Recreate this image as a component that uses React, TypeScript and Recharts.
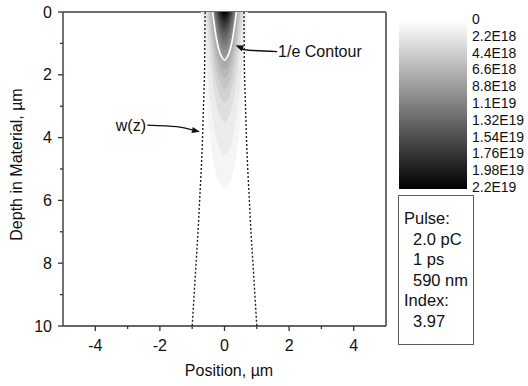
import { Bar, BarChart, ComposedChart, Curve, ReferenceLine, Scatter, XAxis, YAxis } from 'recharts';

const FONT = '"Liberation Sans", Arial, Helvetica, sans-serif';
const INK = '#111';

// axes
const xTicks = [-4, -3, -2, -1, 0, 1, 2, 3, 4];
const yTicks = [0, 1, 2, 3, 4, 5, 6, 7, 8, 9, 10];

// beam radius w(z), dotted lines
const beamDepths = [0, 1, 2, 3, 4, 5, 6, 7, 8, 9, 10];
const beamRadius = [0.6, 0.61, 0.62, 0.65, 0.68, 0.72, 0.77, 0.82, 0.88, 0.94, 1.0];

// filled contour levels (absorbed density), lowest first
const colorMax = 2.2e19;
const contourLevels = [
    5.5e17, 1.1e18, 2.2e18, 3.3e18, 4.4e18, 5.5e18, 6.6e18, 7.7e18, 8.8e18, 9.9e18,
    1.1e19, 1.21e19, 1.32e19, 1.43e19, 1.54e19, 1.65e19, 1.76e19, 1.87e19, 1.98e19, 2.09e19,
];
const contourDepths = [
    [0, 2.8, 4.49, 5.33, 5.61],
    [0, 2.28, 3.64, 4.32, 4.55],
    [0, 1.75, 2.8, 3.33, 3.5],
    [0, 1.44, 2.3, 2.74, 2.88],
    [0, 1.23, 1.96, 2.33, 2.45],
    [0, 1.06, 1.69, 2.0, 2.11],
    [0, 0.92, 1.46, 1.74, 1.83],
    [0, 0.8, 1.28, 1.52, 1.6],
    [0, 0.7, 1.11, 1.32, 1.39],
    [0, 0.61, 0.97, 1.15, 1.21],
    [0, 0.53, 0.84, 1.0, 1.05],
    [0, 0.46, 0.73, 0.86, 0.91],
    [0, 0.39, 0.62, 0.74, 0.78],
    [0, 0.33, 0.52, 0.62, 0.65],
    [0, 0.27, 0.43, 0.51, 0.54],
    [0, 0.22, 0.35, 0.42, 0.44],
    [0, 0.17, 0.27, 0.32, 0.34],
    [0, 0.125, 0.2, 0.24, 0.25],
    [0, 0.08, 0.13, 0.15, 0.16],
    [0, 0.04, 0.064, 0.076, 0.08],
];
const contourHalfWidths = [
    [0.733, 0.553, 0.382, 0.201, 0],
    [0.661, 0.488, 0.328, 0.171, 0],
    [0.579, 0.42, 0.276, 0.142, 0],
    [0.526, 0.379, 0.246, 0.126, 0],
    [0.484, 0.347, 0.224, 0.113, 0],
    [0.45, 0.321, 0.206, 0.104, 0],
    [0.419, 0.298, 0.191, 0.096, 0],
    [0.391, 0.278, 0.177, 0.09, 0],
    [0.365, 0.259, 0.165, 0.083, 0],
    [0.341, 0.241, 0.153, 0.076, 0],
    [0.318, 0.225, 0.142, 0.071, 0],
    [0.295, 0.209, 0.132, 0.066, 0],
    [0.273, 0.193, 0.122, 0.061, 0],
    [0.251, 0.177, 0.112, 0.056, 0],
    [0.228, 0.161, 0.102, 0.051, 0],
    [0.205, 0.145, 0.092, 0.046, 0],
    [0.18, 0.127, 0.08, 0.04, 0],
    [0.154, 0.109, 0.069, 0.034, 0],
    [0.124, 0.088, 0.055, 0.028, 0],
    [0.086, 0.061, 0.038, 0.019, 0],
];

// 1/e contour
const eDepths = [0, 0.76, 1.22, 1.44, 1.54];
const eHalfWidths = [0.37, 0.265, 0.17, 0.085, 0];

// annotations
const contourArrowX = [1.63, 0.69, 0.34];
const contourArrowY = [1.26, 1.21, 1.06];
const beamArrowX = [-2.39, -1.48, -0.76];
const beamArrowY = [3.6, 3.65, 3.81];
const noteText = ['1/e Contour', 'w(z)'];
const noteX = [1.66, -2.43];
const noteY = [1.27, 3.6];
const noteAnchor = ['start', 'end'];

// colour bar
const colorbarTicks = [0, 2.2e18, 4.4e18, 6.6e18, 8.8e18, 1.1e19, 1.32e19, 1.54e19, 1.76e19, 1.98e19, 2.2e19];
const colorbarLabels = ['0', '2.2E18', '4.4E18', '6.6E18', '8.8E18', '1.1E19', '1.32E19', '1.54E19', '1.76E19', '1.98E19', '2.2E19'];

// info box
const pulseLines = ['Pulse:', '2.0 pC', '1 ps', '590 nm', 'Index:', '3.97'];
const pulseIndent = [false, true, true, true, false, true];

const grayFor = (v: number) => {
    const g = Math.round(255 * (1 - v / colorMax));
    return `rgb(${g},${g},${g})`;
};

const mirrored = (depths: number[], widths: number[]) => [
    ...depths.map((d, i) => ({ x: -widths[i], y: d })),
    ...depths
        .slice(0, -1)
        .map((d, i) => ({ x: widths[i], y: d }))
        .reverse(),
];

const toPoints = (xs: number[], ys: number[]) => xs.map((x, i) => ({ x, y: ys[i] }));

const noMarker = () => <g />;

const BandPath = (props: any) => (
    <Curve points={props.points} type="natural" fill={props.tone} stroke="none" />
);

const ContourPath = (props: any) => (
    <Curve points={props.points} type="natural" fill="none" stroke="#fff" strokeWidth={1.6} />
);

const ArrowPath = (props: any) => {
    const pts = props.points || [];
    if (pts.length < 2) return null;
    const a = pts[pts.length - 2];
    const b = pts[pts.length - 1];
    const ang = Math.atan2(b.y - a.y, b.x - a.x);
    const len = 8;
    const half = 3;
    const base = { x: b.x - len * Math.cos(ang), y: b.y - len * Math.sin(ang) };
    const p1 = { x: base.x + half * Math.sin(ang), y: base.y - half * Math.cos(ang) };
    const p2 = { x: base.x - half * Math.sin(ang), y: base.y + half * Math.cos(ang) };
    return (
        <g>
            <Curve points={[...pts.slice(0, -1), base]} type="natural" fill="none" stroke={INK} strokeWidth={1.3} />
            <polygon points={`${b.x},${b.y} ${p1.x},${p1.y} ${p2.x},${p2.y}`} fill={INK} />
        </g>
    );
};

const XTick = (props: any) => {
    const { x, y, payload } = props;
    const major = payload.value % 2 === 0;
    return (
        <g>
            <line x1={x} x2={x} y1={y} y2={y + (major ? 5 : 3)} stroke="#333" strokeWidth={1.3} />
            {major && (
                <text x={x} y={y + 19} dy="0.35em" textAnchor="middle" fontSize={16} fill={INK} fontFamily={FONT}>
                    {payload.value}
                </text>
            )}
        </g>
    );
};

const YTick = (props: any) => {
    const { x, y, payload } = props;
    const major = payload.value % 2 === 0;
    return (
        <g>
            <line x1={x} x2={x - (major ? 5 : 3)} y1={y} y2={y} stroke="#333" strokeWidth={1.3} />
            {major && (
                <text x={x - 11} y={y} dy="0.35em" textAnchor="end" fontSize={16} fill={INK} fontFamily={FONT}>
                    {payload.value}
                </text>
            )}
        </g>
    );
};

export default function App() {
    return (
        <div style={{ position: 'absolute', left: 0, top: 0, width: 528, height: 386, background: '#fff', fontFamily: FONT }}>
            <ComposedChart
                width={528}
                height={386}
                margin={{ top: 12, right: 142, bottom: 0, left: 0 }}
                style={{ position: 'absolute', left: 0, top: 0 }}>
                <XAxis
                    type="number"
                    dataKey="x"
                    domain={[-5, 5]}
                    allowDataOverflow
                    ticks={xTicks}
                    interval={0}
                    height={60}
                    tickSize={0}
                    tickMargin={0}
                    tickLine={false}
                    tick={<XTick />}
                    axisLine={{ stroke: '#333', strokeWidth: 1.5 }}
                    label={{
                        content: () => (
                            <text x={229} y={376} textAnchor="middle" fontSize={16} fill={INK} fontFamily={FONT}>
                                Position, µm
                            </text>
                        ),
                    }}
                />
                <YAxis
                    type="number"
                    dataKey="y"
                    domain={[0, 10]}
                    reversed
                    allowDataOverflow
                    ticks={yTicks}
                    interval={0}
                    width={63}
                    tickSize={0}
                    tickMargin={0}
                    tickLine={false}
                    tick={<YTick />}
                    axisLine={{ stroke: '#444', strokeWidth: 1.5 }}
                    label={{
                        content: () => (
                            <text
                                x={21.5}
                                y={164.5}
                                transform="rotate(-90 21.5 164.5)"
                                textAnchor="middle"
                                fontSize={16}
                                fill={INK}
                                fontFamily={FONT}>
                                Depth in Material, µm
                            </text>
                        ),
                    }}
                />
                {contourLevels.map((lvl, i) => {
                    const next = i + 1 < contourLevels.length ? contourLevels[i + 1] : colorMax;
                    return (
                        <Scatter
                            key={`band-${i}`}
                            data={mirrored(contourDepths[i], contourHalfWidths[i])}
                            shape={noMarker}
                            line={<BandPath tone={grayFor((lvl + next) / 2)} />}
                            isAnimationActive={false}
                        />
                    );
                })}
                <Scatter
                    data={mirrored(eDepths, eHalfWidths)}
                    shape={noMarker}
                    line={<ContourPath />}
                    isAnimationActive={false}
                />
                <Scatter
                    data={toPoints(beamRadius.map((w) => -w), beamDepths)}
                    shape={noMarker}
                    line={{ stroke: '#222', strokeWidth: 1.4, strokeDasharray: '2 2' }}
                    lineJointType="natural"
                    isAnimationActive={false}
                />
                <Scatter
                    data={toPoints(beamRadius, beamDepths)}
                    shape={noMarker}
                    line={{ stroke: '#222', strokeWidth: 1.4, strokeDasharray: '2 2' }}
                    lineJointType="natural"
                    isAnimationActive={false}
                />
                <Scatter
                    data={toPoints(contourArrowX, contourArrowY)}
                    shape={noMarker}
                    line={<ArrowPath />}
                    isAnimationActive={false}
                />
                <Scatter
                    data={toPoints(beamArrowX, beamArrowY)}
                    shape={noMarker}
                    line={<ArrowPath />}
                    isAnimationActive={false}
                />
                <Scatter
                    data={noteText.map((t, i) => ({ x: noteX[i], y: noteY[i], text: t, anchor: noteAnchor[i] }))}
                    shape={(p: any) => (
                        <text
                            x={p.cx}
                            y={p.cy}
                            dy="0.35em"
                            textAnchor={p.payload.anchor}
                            fontSize={16}
                            fill={INK}
                            fontFamily={FONT}>
                            {p.payload.text}
                        </text>
                    )}
                    isAnimationActive={false}
                />
                <ReferenceLine y={0} stroke="#6e6e6e" strokeWidth={2} />
                <ReferenceLine x={5} stroke="#6e6e6e" strokeWidth={2} />
            </ComposedChart>

            <BarChart
                width={129}
                height={200}
                data={[{ name: 'scale', value: colorMax }]}
                margin={{ top: 21, right: 0, bottom: 11, left: 0 }}
                barCategoryGap={0}
                style={{ position: 'absolute', left: 399, top: 0 }}>
                <defs>
                    <linearGradient id="cbGrad" x1="0" y1="0" x2="0" y2="1">
                        <stop offset="0%" stopColor="#fff" />
                        <stop offset="100%" stopColor="#000" />
                    </linearGradient>
                </defs>
                <XAxis dataKey="name" hide />
                <YAxis
                    orientation="right"
                    type="number"
                    domain={[0, colorMax]}
                    reversed
                    ticks={colorbarTicks}
                    interval={0}
                    width={61}
                    tickSize={0}
                    tickMargin={5}
                    tickLine={false}
                    axisLine={false}
                    tickFormatter={(_v: number, i: number) => colorbarLabels[i]}
                    tick={{ fontSize: 14, fill: INK, fontFamily: FONT, dy: -2 }}
                />
                <Bar dataKey="value" fill="url(#cbGrad)" isAnimationActive={false} />
            </BarChart>

            <div
                style={{
                    position: 'absolute',
                    left: 398,
                    top: 195,
                    width: 76,
                    height: 150,
                    boxSizing: 'border-box',
                    border: '1.5px solid #5a5a5a',
                    padding: '12px 0 0 5px',
                    fontSize: 16.5,
                    lineHeight: '20.6px',
                    color: INK,
                }}>
                {pulseLines.map((t, i) => (
                    <div key={i} style={{ paddingLeft: pulseIndent[i] ? 9 : 0, whiteSpace: 'nowrap' }}>
                        {t}
                    </div>
                ))}
            </div>
        </div>
    );
}
